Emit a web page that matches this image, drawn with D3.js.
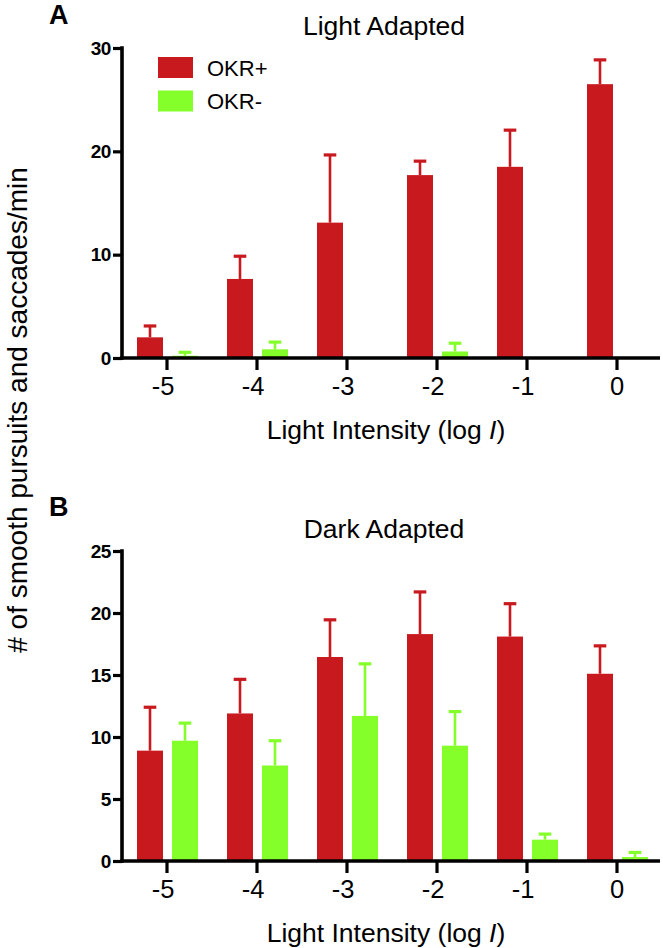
<!DOCTYPE html>
<html>
<head>
<meta charset="utf-8">
<script src="https://cdn.jsdelivr.net/npm/d3@7"></script>
<style>
  html, body { margin: 0; padding: 0; background: #fff; }
  svg { display: block; font-family: "Liberation Sans", Arial, Helvetica, sans-serif; }
</style>
</head>
<body>
<svg id="chart" width="663" height="948"></svg>
<script>
// ---- data ----
const categories = ["-5", "-4", "-3", "-2", "-1", "0"];
const series = ["OKR+", "OKR-"];
const seriesColors = ["#C8191E", "#84FF2A"];

const lightOkrPlus     = [2.0, 7.65, 13.1, 17.7, 18.5, 26.5];
const lightOkrPlusErr  = [1.1, 2.2, 6.55, 1.35, 3.55, 2.35];
const lightOkrMinus    = [0.22, 0.84, 0, 0.63, 0, 0];
const lightOkrMinusErr = [0.33, 0.7, 0, 0.8, 0, 0];

const darkOkrPlus      = [8.9, 11.9, 16.45, 18.3, 18.1, 15.1];
const darkOkrPlusErr   = [3.5, 2.75, 3.0, 3.4, 2.65, 2.25];
const darkOkrMinus     = [9.7, 7.7, 11.7, 9.3, 1.72, 0.32];
const darkOkrMinusErr  = [1.42, 2.0, 4.2, 2.75, 0.45, 0.37];

const lightTicks = [0, 10, 20, 30];
const darkTicks = [0, 5, 10, 15, 20, 25];

const svg = d3.select("#chart");

function panel(opts) {
  const g = svg.append("g");
  const x0 = d3.scaleBand().domain(categories).range([122, 662]).paddingInner(0).paddingOuter(0);
  const x1 = d3.scaleBand().domain(series).range([-30, 31]).paddingInner(9 / 35).paddingOuter(0);
  const y = d3.scaleLinear().domain([0, opts.max]).range([opts.bottom, opts.top]);

  const rows = [];
  categories.forEach((c, i) => {
    rows.push({ c, s: series[0], v: opts.plus[i], e: opts.plusErr[i], color: seriesColors[0] });
    rows.push({ c, s: series[1], v: opts.minus[i], e: opts.minusErr[i], color: seriesColors[1] });
  });

  const cx = d => x0(d.c) + x0.bandwidth() / 2 + x1(d.s);

  // error bars (upper only)
  const eb = g.append("g").selectAll("g").data(rows.filter(d => d.e > 0)).join("g");
  eb.append("line")
    .attr("x1", d => cx(d) + x1.bandwidth() / 2)
    .attr("x2", d => cx(d) + x1.bandwidth() / 2)
    .attr("y1", d => y(d.v))
    .attr("y2", d => y(d.v + d.e))
    .attr("stroke", d => d.color).attr("stroke-width", 2.6);
  eb.append("line")
    .attr("x1", d => cx(d) + x1.bandwidth() / 2 - 6.3)
    .attr("x2", d => cx(d) + x1.bandwidth() / 2 + 6.3)
    .attr("y1", d => y(d.v + d.e))
    .attr("y2", d => y(d.v + d.e))
    .attr("stroke", d => d.color).attr("stroke-width", 3.2);

  // bars
  g.append("g").selectAll("rect").data(rows.filter(d => d.v > 0)).join("rect")
    .attr("x", d => cx(d))
    .attr("width", x1.bandwidth())
    .attr("y", d => y(d.v))
    .attr("height", d => y(0) - y(d.v))
    .attr("fill", d => d.color);

  // y axis
  const ya = g.append("g").attr("transform", "translate(122,0)")
    .call(d3.axisLeft(y).tickValues(opts.ticks).tickSize(9).tickSizeOuter(0).tickPadding(2));
  ya.select(".domain").attr("stroke-width", 3.6).attr("d", `M0,${opts.top - 1.8}V${opts.bottom + 1.8}`);
  ya.selectAll(".tick line").attr("stroke-width", 3.2);
  ya.selectAll(".tick text").attr("font-size", 19).attr("font-weight", "bold")
    .attr("font-family", "Liberation Sans, Arial, sans-serif").attr("fill", "#000")
    .attr("letter-spacing", -0.4);

  // x axis
  const xa = g.append("g").attr("transform", `translate(0,${opts.bottom})`)
    .call(d3.axisBottom(x0).tickSize(12).tickSizeOuter(0).tickPadding(7));
  xa.select(".domain").attr("stroke-width", 3.6).attr("d", "M120.2,0H660");
  xa.selectAll(".tick line").attr("stroke-width", 3.2);
  xa.selectAll(".tick text").attr("font-size", 25.5)
    .attr("dx", d => (d.startsWith("-") ? -4 : 0))
    .attr("font-family", "Liberation Sans, Arial, sans-serif").attr("fill", "#000");

  // x axis title
  const xt = g.append("text").attr("x", 386).attr("y", opts.bottom + 81)
    .attr("text-anchor", "middle").attr("font-size", 26.5).attr("fill", "#000");
  xt.append("tspan").text("Light Intensity (log ");
  xt.append("tspan").attr("font-style", "italic").text("I");
  xt.append("tspan").text(")");

  // panel title
  g.append("text").attr("x", 384).attr("y", opts.top - 13)
    .attr("text-anchor", "middle").attr("font-size", 26.5).attr("fill", "#000")
    .text(opts.title);

  // panel letter
  g.append("text").attr("x", 49).attr("y", opts.letterY)
    .attr("font-size", 27).attr("font-weight", "bold").attr("fill", "#000")
    .text(opts.letter);

  return { x0, y };
}

panel({ title: "Light Adapted", letter: "A", letterY: 24, max: 30, top: 48, bottom: 358, ticks: lightTicks,
        plus: lightOkrPlus, plusErr: lightOkrPlusErr, minus: lightOkrMinus, minusErr: lightOkrMinusErr });
panel({ title: "Dark Adapted", letter: "B", letterY: 516, max: 25, top: 551, bottom: 861, ticks: darkTicks,
        plus: darkOkrPlus, plusErr: darkOkrPlusErr, minus: darkOkrMinus, minusErr: darkOkrMinusErr });

// legend
const legend = svg.append("g");
series.forEach((s, i) => {
  legend.append("rect").attr("x", 158).attr("y", 57 + i * 33.5).attr("width", 35).attr("height", 21)
    .attr("fill", seriesColors[i]);
  legend.append("text").attr("x", 207).attr("y", 68 + i * 33.5).attr("dy", "0.36em")
    .attr("font-size", 22).attr("fill", "#000").text(s);
});

// shared y axis title
svg.append("text")
  .attr("transform", "translate(26.5,410) rotate(-90)")
  .attr("text-anchor", "middle").attr("font-size", 28).attr("fill", "#000")
  .text("# of smooth pursuits and saccades/min");
</script>
</body>
</html>
